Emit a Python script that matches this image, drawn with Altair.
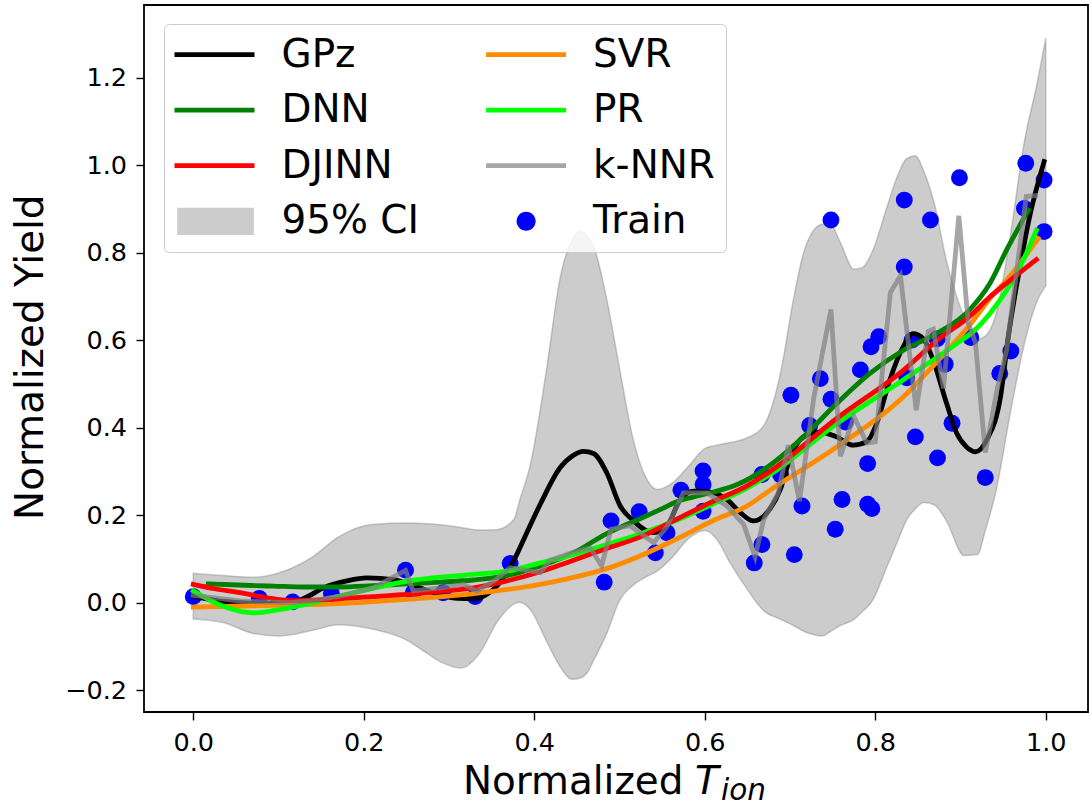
import altair as alt
import pandas as pd

# ---------------- data ----------------
ci_x = [0.0, 0.035, 0.07, 0.1, 0.14, 0.17, 0.21, 0.25, 0.27, 0.29, 0.314, 0.336, 0.356, 0.376, 0.383, 0.395, 0.415, 0.43, 0.444, 0.454,
        0.462, 0.47, 0.485, 0.5, 0.516, 0.532, 0.544, 0.563, 0.58, 0.6, 0.614, 0.63, 0.65, 0.669, 0.689, 0.704, 0.716, 0.726, 0.7375, 0.747,
        0.759, 0.775, 0.785, 0.796, 0.814, 0.826, 0.837, 0.847, 0.857, 0.869, 0.884, 0.904, 0.92, 0.929, 0.941, 0.959, 0.974, 0.99, 1.0]
ci_upper = [0.067, 0.062, 0.058, 0.068, 0.105, 0.150, 0.179, 0.182, 0.181, 0.178, 0.172, 0.166, 0.167, 0.19, 0.235, 0.312, 0.541, 0.739, 0.828, 0.849,
            0.838, 0.812, 0.693, 0.535, 0.373, 0.282, 0.259, 0.275, 0.31, 0.352, 0.360, 0.366, 0.377, 0.404, 0.526, 0.693, 0.80, 0.846, 0.865, 0.866,
            0.823, 0.762, 0.766, 0.800, 0.906, 0.975, 1.015, 1.021, 0.985, 0.914, 0.777, 0.655, 0.602, 0.609, 0.655, 0.846, 1.044, 1.189, 1.29]
ci_lower = [-0.037, -0.045, -0.07, -0.076, -0.063, -0.050, -0.060, -0.085, -0.110, -0.135, -0.149, -0.115, -0.045, -0.003, 0.001, -0.015, -0.09, -0.145, -0.175, -0.172,
            -0.16, -0.13, -0.07, 0.005, 0.04, 0.06, 0.072, 0.106, 0.145, 0.165, 0.145, 0.09, 0.03, -0.018, -0.038, -0.052, -0.065, -0.072, -0.076, -0.066,
            -0.052, -0.038, -0.02, 0.003, 0.084, 0.14, 0.19, 0.215, 0.229, 0.224, 0.185, 0.108, 0.11, 0.165, 0.25, 0.44, 0.585, 0.69, 0.724]

gpz_x = [0.0, 0.03, 0.055, 0.085, 0.1135, 0.135, 0.1526, 0.18, 0.2035, 0.235, 0.26, 0.2896, 0.31, 0.3286, 0.345, 0.356, 0.3756, 0.39, 0.407, 0.43,
         0.445, 0.4577, 0.4695, 0.485, 0.5008, 0.5164, 0.54, 0.5556, 0.5713, 0.587, 0.6065, 0.626, 0.6417, 0.657, 0.673, 0.6886, 0.70, 0.7157, 0.735, 0.7547,
         0.774, 0.79, 0.8017, 0.817, 0.8328, 0.8446, 0.856, 0.868, 0.8837, 0.8955, 0.907, 0.9175, 0.931, 0.947, 0.956, 0.9697, 0.981, 0.998]
gpz_y = [0.015, 0.004, 0.0, -0.002, 0.0, 0.015, 0.034, 0.05, 0.057, 0.053, 0.038, 0.018, 0.01, 0.009, 0.02, 0.038, 0.095, 0.155, 0.225, 0.308,
         0.336, 0.346, 0.341, 0.297, 0.221, 0.187, 0.16, 0.175, 0.236, 0.255, 0.253, 0.236, 0.206, 0.187, 0.206, 0.259, 0.33, 0.379, 0.390, 0.379,
         0.36, 0.368, 0.41, 0.509, 0.585, 0.615, 0.604, 0.554, 0.455, 0.387, 0.356, 0.345, 0.373, 0.472, 0.608, 0.7676, 0.882, 1.008]

dnn_x = [0.0176, 0.06, 0.094, 0.13, 0.172, 0.21, 0.25, 0.29, 0.3286, 0.368, 0.407, 0.446, 0.485, 0.524, 0.55, 0.5713, 0.587, 0.61, 0.638,
         0.6765, 0.7157, 0.7547, 0.7937, 0.8328, 0.872, 0.911, 0.9345, 0.954, 0.9795]
dnn_y = [0.043, 0.040, 0.038, 0.036, 0.036, 0.039, 0.043, 0.047, 0.052, 0.062, 0.084, 0.114, 0.158, 0.192, 0.215, 0.234, 0.242, 0.253, 0.270,
         0.314, 0.379, 0.455, 0.524, 0.577, 0.615, 0.670, 0.730, 0.806, 0.897]

djinn_x = [0.0, 0.025, 0.055, 0.085, 0.1135, 0.14, 0.172, 0.21, 0.25, 0.29, 0.3286, 0.368, 0.407, 0.446, 0.485, 0.524, 0.5713, 0.61, 0.6496,
           0.6765, 0.7547, 0.8328, 0.876, 0.911, 0.9345, 0.954, 0.989]
djinn_y = [0.042, 0.032, 0.023, 0.012, 0.005, 0.006, 0.009, 0.014, 0.019, 0.026, 0.034, 0.050, 0.071, 0.097, 0.124, 0.150, 0.195, 0.232, 0.267,
           0.300, 0.421, 0.531, 0.605, 0.655, 0.699, 0.730, 0.784]

svr_x = [0.0, 0.094, 0.172, 0.25, 0.3286, 0.407, 0.446, 0.485, 0.524, 0.5713, 0.61, 0.6496, 0.6765, 0.7547, 0.8328, 0.872, 0.911, 0.9345, 0.954, 0.991]
svr_y = [-0.010, -0.006, -0.002, 0.0075, 0.021, 0.042, 0.058, 0.078, 0.107, 0.150, 0.188, 0.221, 0.257, 0.356, 0.470, 0.55, 0.635, 0.695, 0.737, 0.832]

pr_x = [0.0, 0.035, 0.0704, 0.1135, 0.172, 0.25, 0.3286, 0.368, 0.407, 0.446, 0.485, 0.524, 0.5713, 0.61, 0.6496, 0.6765, 0.7547, 0.8328,
        0.8955, 0.915, 0.9345, 0.954, 0.9736, 0.989]
pr_y = [0.027, -0.008, -0.023, -0.011, 0.015, 0.049, 0.065, 0.072, 0.091, 0.110, 0.133, 0.157, 0.192, 0.226, 0.262, 0.293, 0.409, 0.509,
        0.592, 0.620, 0.661, 0.714, 0.783, 0.851]

knn_x = [0.0, 0.03, 0.055, 0.085, 0.1135, 0.14, 0.172, 0.211, 0.249, 0.258, 0.2896, 0.317, 0.3326, 0.352, 0.3717, 0.407, 0.4186, 0.446, 0.4656, 0.479,
         0.49, 0.5125, 0.54, 0.556, 0.575, 0.6026, 0.626, 0.6456, 0.659, 0.669, 0.686, 0.698, 0.711, 0.728, 0.748, 0.759, 0.775, 0.79, 0.80, 0.8177,
         0.8295, 0.848, 0.862, 0.868, 0.880, 0.898, 0.909, 0.9175, 0.929, 0.943, 0.954, 0.977, 0.988]
knn_y = [0.017, 0.01, 0.004, 0.002, 0.0, 0.005, 0.015, 0.034, 0.074, 0.027, 0.034, 0.042, 0.027, 0.049, 0.08, 0.069, 0.097, 0.116, 0.125, 0.084,
         0.168, 0.176, 0.137, 0.175, 0.251, 0.251, 0.221, 0.179, 0.105, 0.19, 0.25, 0.36, 0.232, 0.47, 0.67, 0.335, 0.425, 0.365, 0.368, 0.709,
         0.747, 0.44, 0.62, 0.625, 0.49, 0.884, 0.64, 0.594, 0.343, 0.488, 0.577, 0.928, 0.93]

train_x = [0.0, 0.0775, 0.1166, 0.162, 0.249, 0.258, 0.293, 0.3306, 0.3717, 0.482, 0.49, 0.523, 0.542, 0.5557, 0.572, 0.598, 0.598, 0.598, 0.658, 0.667,
           0.667, 0.689, 0.701, 0.705, 0.714, 0.723, 0.7355, 0.748, 0.748, 0.753, 0.761, 0.765, 0.7825, 0.791, 0.791, 0.796, 0.795, 0.804, 0.834, 0.834,
           0.837, 0.843, 0.847, 0.8647, 0.8725, 0.873, 0.882, 0.890, 0.8987, 0.912, 0.929, 0.946, 0.959, 0.975, 0.9765, 0.998, 0.998]
train_y = [0.014, 0.010, 0.002, 0.021, 0.0745, 0.023, 0.023, 0.014, 0.090, 0.047, 0.187, 0.208, 0.114, 0.160, 0.257, 0.301, 0.270, 0.209, 0.091, 0.133,
           0.293, 0.292, 0.474, 0.110, 0.221, 0.405, 0.512, 0.8746, 0.465, 0.168, 0.236, 0.413, 0.532, 0.318, 0.225, 0.215, 0.585, 0.608, 0.920, 0.767,
           0.514, 0.600, 0.379, 0.8746, 0.603, 0.331, 0.545, 0.410, 0.971, 0.606, 0.286, 0.524, 0.575, 0.901, 1.004, 0.966, 0.848]

# legend entries (column-major order for a 2-column legend)
legend_names = ["GPz", "DNN", "DJINN", "95% CI", "SVR", "PR", "k-NNR", "Train"]
legend_colors = ["#000000", "#008000", "#ff0000", "#cccccc", "#ff8c00", "#00ff00", "#a6a6a6", "#0000ff"]

x_ticks = [0.0, 0.2, 0.4, 0.6, 0.8, 1.0]
y_ticks = [-0.2, 0.0, 0.2, 0.4, 0.6, 0.8, 1.0, 1.2]

# ---------------- chart ----------------
FONT = "DejaVu Sans"
W, H = 944, 707
LW = 4.8

xscale = alt.Scale(domain=[-0.0578, 1.0495], nice=False, zero=False)
yscale = alt.Scale(domain=[-0.2496, 1.3657], nice=False, zero=False)

xaxis = alt.Axis(values=x_ticks, format=".1f", title=None, grid=False, domain=False,
                 tickSize=8, tickWidth=1.4, tickColor="black", labelFontSize=25.5, labelFont=FONT,
                 labelColor="black", labelPadding=10.5, labelFlush=False)
yaxis = alt.Axis(values=y_ticks, format=".1f", title="Normalized Yield", grid=False, domain=False,
                 tickSize=8, tickWidth=1.4, tickColor="black", labelFontSize=25.5, labelFont=FONT,
                 labelColor="black", labelPadding=9.5, labelFlush=False,
                 titleFontSize=38.9, titleFont=FONT, titleFontWeight="normal", titleColor="black",
                 titleAngle=270, titleBaseline="alphabetic", titleAlign="center",
                 titleX=-102, titleY=351.7)


def X(field="x"):
    return alt.X(f"{field}:Q", scale=xscale, axis=xaxis)


def Y(field="y"):
    return alt.Y(f"{field}:Q", scale=yscale, axis=yaxis)


band = alt.Chart(pd.DataFrame({"x": ci_x, "lo": ci_lower, "hi": ci_upper})).mark_area(
    fill="#808080", fillOpacity=0.4, stroke="#808080", strokeOpacity=0.4, strokeWidth=1.5,
    interpolate="monotone"
).encode(x=X(), y=Y("lo"), y2="hi:Q")

train = alt.Chart(pd.DataFrame({"x": train_x, "y": train_y})).mark_circle(
    color="#0000ff", size=285, opacity=1
).encode(x=X(), y=Y())


def curve(xs, ys, color, interp="monotone", opacity=1.0):
    return alt.Chart(pd.DataFrame({"x": xs, "y": ys})).mark_line(
        color=color, strokeWidth=LW, opacity=opacity, interpolate=interp, strokeCap="square"
    ).encode(x=X(), y=Y())


gpz = curve(gpz_x, gpz_y, "#000000")
dnn = curve(dnn_x, dnn_y, "#008000")
svr = curve(svr_x, svr_y, "#ff8c00")
pr = curve(pr_x, pr_y, "#00ff00")
djinn = curve(djinn_x, djinn_y, "#ff0000")
knn = curve(knn_x, knn_y, "#808080", interp="linear", opacity=0.7)

# legend symbol paths (unit = 20 px, symbol centred 1 unit from the entry start)
LINE = "M-1,-0.12L3,-0.12L3,0.12L-1,0.12Z"
PATCH = "M-0.865,-0.68L2.965,-0.68L2.965,0.68L-0.865,0.68Z"
DOT = "M0.525,0A0.475,0.475,0,1,0,1.475,0A0.475,0.475,0,1,0,0.525,0Z"
legend_shapes = [LINE, LINE, LINE, PATCH, LINE, LINE, LINE, DOT]

leg = alt.Legend(title=None, orient="none", legendX=20, legendY=19, columns=2,
                 symbolSize=1600, symbolOpacity=1, symbolStrokeWidth=0,
                 labelFontSize=38.9, labelFont=FONT, labelColor="black", labelOffset=67,
                 labelLimit=400, columnPadding=66.6, rowPadding=15.6, padding=10.5,
                 fillColor="rgba(255,255,255,0.8)", strokeColor="#cccccc", cornerRadius=5)

legend_layer = alt.Chart(pd.DataFrame({"name": legend_names})).mark_point(
    filled=True, opacity=0
).encode(
    color=alt.Color("name:N", scale=alt.Scale(domain=legend_names, range=legend_colors), legend=leg),
    shape=alt.Shape("name:N", scale=alt.Scale(domain=legend_names, range=legend_shapes), legend=leg),
)

# x-axis title "Normalized T_ion" (italic T with subscript)
t1 = alt.Chart(pd.DataFrame({"t": ["Normalized"]})).mark_text(
    align="left", baseline="alphabetic", font=FONT, fontSize=38.9, color="black"
).encode(text="t:N", x=alt.value(318.9), y=alt.value(789))
t2 = alt.Chart(pd.DataFrame({"t": ["T"]})).mark_text(
    align="left", baseline="alphabetic", font=FONT, fontSize=38.9, fontStyle="italic", color="black"
).encode(text="t:N", x=alt.value(551), y=alt.value(789))
t3 = alt.Chart(pd.DataFrame({"t": ["ion"]})).mark_text(
    align="left", baseline="alphabetic", font=FONT, fontSize=29.5, fontStyle="italic", color="black"
).encode(text="t:N", x=alt.value(577), y=alt.value(795))

chart = alt.layer(band, train, gpz, dnn, svr, pr, djinn, knn, legend_layer, t1, t2, t3).properties(
    width=W, height=H,
    autosize=alt.AutoSizeParams(type="none"),
    padding={"left": 144, "top": 5, "right": 3, "bottom": 100},
    background="white",
).configure_view(
    stroke="black", strokeWidth=1.8
)

chart.save("out.html", embed_options={"renderer": "svg", "actions": False})
